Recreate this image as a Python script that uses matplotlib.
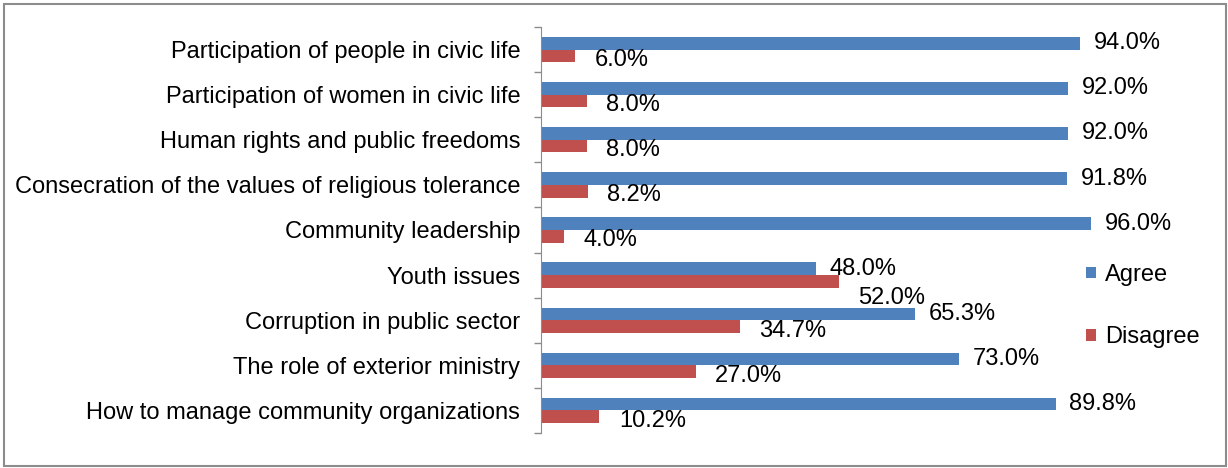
import matplotlib
matplotlib.use("Agg")
import matplotlib.pyplot as plt
from matplotlib.patches import Rectangle
import numpy as np

categories = [
    "Participation of people in civic life",
    "Participation of women in civic life",
    "Human rights and public freedoms",
    "Consecration of the values of religious tolerance",
    "Community leadership",
    "Youth issues",
    "Corruption in public sector",
    "The role of exterior ministry",
    "How to manage community organizations",
]
agree = [94.0, 92.0, 92.0, 91.8, 96.0, 48.0, 65.3, 73.0, 89.8]
disagree = [6.0, 8.0, 8.0, 8.2, 4.0, 52.0, 34.7, 27.0, 10.2]

blue = "#4F81BD"
red = "#C0504D"
fs = 17

plt.rcParams["font.family"] = ["Liberation Sans", "DejaVu Sans"]

fig = plt.figure(figsize=(12.28, 4.68), dpi=100)
# outer frame
fig.patches.append(Rectangle((4 / 1228, 2 / 468), 1222 / 1228, 462 / 468,
                             transform=fig.transFigure, fill=False,
                             edgecolor="#8c8c8c", linewidth=1.5))

ax = fig.add_axes([541 / 1228, 1 - 433 / 468, (1114 - 541) / 1228, 406 / 468])

y = np.arange(len(categories))
h = 0.28
ax.barh(y - h / 2, agree, height=h, color=blue, label="Agree")
ax.barh(y + h / 2, disagree, height=h, color=red, label="Disagree")

for i, (a, d) in enumerate(zip(agree, disagree)):
    ax.annotate(f"{a:.1f}%", (a, y[i] - h / 2), xytext=(10, 0),
                textcoords="offset points", va="center", ha="left", fontsize=fs)
    # push the red label down when it would run into the blue one
    dy = -12 if d > a else -3
    ax.annotate(f"{d:.1f}%", (d, y[i] + h / 2), xytext=(14, dy),
                textcoords="offset points", va="center", ha="left", fontsize=fs)

ax.set_xlim(0, 100)
ax.set_ylim(len(categories) - 0.5, -0.5)
ax.set_yticks(y)
ax.set_yticklabels(categories, fontsize=fs)
ax.set_yticks(np.arange(len(categories) + 1) - 0.5, minor=True)
ax.tick_params(axis="y", which="major", length=0, pad=15)
ax.tick_params(axis="y", which="minor", length=5, color="#8c8c8c", width=1)
ax.set_xticks([])
for s in ["top", "right", "bottom"]:
    ax.spines[s].set_visible(False)
ax.spines["left"].set_color("#8c8c8c")

ax.legend(loc="center left", bbox_to_anchor=(1065 / 1228, 1 - 306 / 468),
          bbox_transform=fig.transFigure, frameon=False, fontsize=fs,
          handlelength=0.4, handleheight=0.4, handletextpad=0.4,
          labelspacing=1.7)

fig.savefig("out.png", dpi=100)
